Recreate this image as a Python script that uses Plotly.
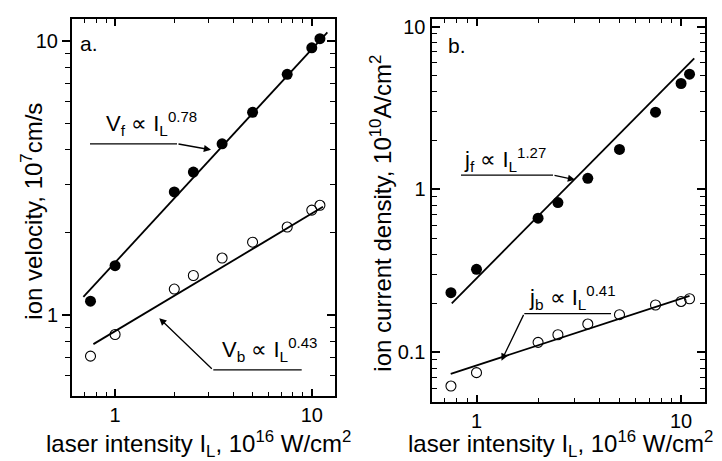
import numpy as np
import plotly.graph_objects as go

# ---- data -------------------------------------------------------------
intensity = [0.75, 1.0, 2.0, 2.5, 3.5, 5.0, 7.5, 10.0, 11.0]   # 10^16 W/cm^2

v_fast = [1.12, 1.51, 2.81, 3.32, 4.21, 5.49, 7.56, 9.45, 10.2]        # 10^7 cm/s
v_back = [0.705, 0.846, 1.24, 1.39, 1.61, 1.84, 2.09, 2.41, 2.51]

j_fast = [0.232, 0.323, 0.666, 0.83, 1.17, 1.76, 2.98, 4.47, 5.1]       # 10^10 A/cm^2
j_back = [0.062, 0.0749, 0.115, 0.128, 0.149, 0.170, 0.195, 0.205, 0.213]

# power-law fits  y = k * I^p
fit_exp = {"vf": 0.78, "vb": 0.43, "jf": 1.27, "jb": 0.41}
fit_k = {"vf": 1.55, "vb": 0.87, "jf": 0.284, "jb": 0.083}
fit_span = {"vf": (0.69, 12.0), "vb": (0.776, 11.4), "jf": (0.757, 11.6), "jb": (0.748, 11.0)}

x_ticks = [1, 10]
x_minor = [0.6, 0.7, 0.8, 0.9, 2, 3, 4, 5, 6, 7, 8, 9]
ya_ticks = [1, 10]
ya_minor = [0.5, 0.6, 0.7, 0.8, 0.9, 2, 3, 4, 5, 6, 7, 8, 9]
yb_ticks = [0.1, 1, 10]
yb_minor = [0.05, 0.06, 0.07, 0.08, 0.09, 0.2, 0.3, 0.4, 0.5, 0.6, 0.7, 0.8, 0.9,
            2, 3, 4, 5, 6, 7, 8, 9]

# ---- layout helpers -----------------------------------------------------
W, H = 722, 461
def X(px):
    return px / W
def Y(py):
    return 1 - py / H

SANS = "Liberation Sans, Arial, sans-serif"

fig = go.Figure()

def fit_line(key, xa, ya):
    lo, hi = fit_span[key]
    xs = np.geomspace(lo, hi, 20)
    ys = fit_k[key] * xs ** fit_exp[key]
    fig.add_trace(go.Scatter(x=xs, y=ys, mode="lines", xaxis=xa, yaxis=ya,
                             line=dict(color="black", width=1.8), showlegend=False,
                             hoverinfo="skip"))

def points(ys, filled, xa, ya):
    if filled:
        marker = dict(symbol="circle", size=11, color="black")
    else:
        marker = dict(symbol="circle-open", size=10, color="black", line=dict(width=1.1))
    fig.add_trace(go.Scatter(x=intensity, y=ys, mode="markers", xaxis=xa, yaxis=ya,
                             marker=marker, showlegend=False))

fit_line("vf", "x", "y")
fit_line("vb", "x", "y")
points(v_fast, True, "x", "y")
points(v_back, False, "x", "y")

fit_line("jf", "x2", "y2")
fit_line("jb", "x2", "y2")
points(j_fast, True, "x2", "y2")
points(j_back, False, "x2", "y2")

tickfont = dict(family=SANS, size=20, color="black")

def xaxis_cfg(domain, rng):
    return dict(type="log", domain=domain, range=rng, tickvals=x_ticks,
                ticktext=[str(v) for v in x_ticks], ticks="inside", ticklen=7,
                tickwidth=1.5, tickcolor="black", showline=True, linecolor="black",
                linewidth=2, mirror="ticks", showgrid=False, zeroline=False,
                tickfont=tickfont,
                minor=dict(tickvals=x_minor, ticks="inside", ticklen=4,
                           tickwidth=1.3, tickcolor="black", showgrid=False))

fig.update_layout(
    width=W, height=H, margin=dict(l=0, r=0, t=0, b=0),
    paper_bgcolor="white", plot_bgcolor="white", showlegend=False,
    xaxis=xaxis_cfg([X(72), X(335)], [-0.219, 1.118]) | dict(anchor="y"),
    xaxis2=xaxis_cfg([X(431.5), X(705)], [-0.22, 1.117]) | dict(anchor="y2"),
    yaxis=dict(type="log", domain=[Y(396), Y(16)], range=[-0.299, 1.081],
               anchor="x", tickvals=ya_ticks, ticktext=["1", "10"],
               ticks="outside", ticklen=8, tickwidth=1.5, tickcolor="black",
               showline=True, linecolor="black", linewidth=2, mirror=False,
               showgrid=False, zeroline=False, tickfont=tickfont,
               minor=dict(tickvals=ya_minor, ticks="outside", ticklen=5,
                          tickwidth=1.3, tickcolor="black", showgrid=False)),
    yaxis3=dict(type="log", overlaying="y", side="right", anchor="x",
                range=[-0.299, 1.081], tickvals=ya_ticks, showticklabels=False,
                ticks="inside", ticklen=8, tickwidth=1.5, tickcolor="black",
                showline=True, linecolor="black", linewidth=2, showgrid=False,
                zeroline=False,
                minor=dict(tickvals=ya_minor, ticks="inside", ticklen=5,
                           tickwidth=1.3, tickcolor="black", showgrid=False)),
    yaxis2=dict(type="log", domain=[Y(401.5), Y(16)], range=[-1.305, 1.047],
                anchor="x2", tickvals=yb_ticks, ticktext=["0.1", "1", "10"],
                ticks="inside", ticklen=8, tickwidth=1.5, tickcolor="black",
                showline=True, linecolor="black", linewidth=2, mirror="ticks",
                showgrid=False, zeroline=False, tickfont=tickfont,
                minor=dict(tickvals=yb_minor, ticks="inside", ticklen=5,
                           tickwidth=1.3, tickcolor="black", showgrid=False)),
)

# keep the right-hand axis of panel a drawn (needs a trace on it)
fig.add_trace(go.Scatter(x=[1], y=[1], xaxis="x", yaxis="y3", mode="markers",
                         marker=dict(opacity=0), showlegend=False, hoverinfo="skip"))

# ---- texts ------------------------------------------------------------------
def text(px, py, s, size, xanchor="center", angle=0):
    fig.add_annotation(x=X(px), y=Y(py), xref="paper", yref="paper", text=s,
                       showarrow=False, xanchor=xanchor, yanchor="middle",
                       textangle=angle, font=dict(family=SANS, size=size, color="black"))

text(89, 41, "a.", 21)
text(457, 43, "b.", 21)

xtitle = "laser intensity I<sub>L</sub>, 10<sup>16</sup> W/cm<sup>2</sup>"
text(198, 444, xtitle, 24)
text(560, 444, xtitle, 24)
text(32, 210, "ion velocity, 10<sup>7</sup>cm/s", 24, angle=-90)
text(381, 211, "ion current density, 10<sup>10</sup>A/cm<sup>2</sup>", 24, angle=-90)

def formula(px, py, main, sub, exp):
    s = (f"{main}<sub>{sub}</sub> \u221d I<sub>L</sub>"
         f"<sup><span style='font-size:15px'>{exp}</span></sup>")
    text(px, py, s, 22, xanchor="left")

formula(104, 121, "V", "f", fit_exp["vf"])
formula(220, 349, "V", "b", fit_exp["vb"])
formula(462, 158, "j", "f", fit_exp["jf"])
formula(527, 296, "j", "b", fit_exp["jb"])

# ---- pointer arrows -----------------------------------------------------------
def pointer(tail, knee, tip):
    fig.add_shape(type="line", xref="paper", yref="paper",
                  x0=X(tail[0]), y0=Y(tail[1]), x1=X(knee[0]), y1=Y(knee[1]),
                  line=dict(color="black", width=1.3))
    fig.add_annotation(x=X(tip[0]), y=Y(tip[1]), xref="paper", yref="paper",
                       ax=knee[0] - tip[0], ay=knee[1] - tip[1], text="",
                       showarrow=True, arrowhead=2, arrowsize=1.1, arrowwidth=1.3,
                       arrowcolor="black", standoff=0, startstandoff=0)

pointer((90, 141.7), (177, 141.7), (211, 147.8))
pointer((301.7, 369.3), (213.3, 369.3), (159.3, 317.3))
pointer((461, 173.3), (553, 173.3), (575, 177.8))
pointer((611, 312.7), (524.3, 312.7), (501.5, 360))

fig.write_html("out.html")
